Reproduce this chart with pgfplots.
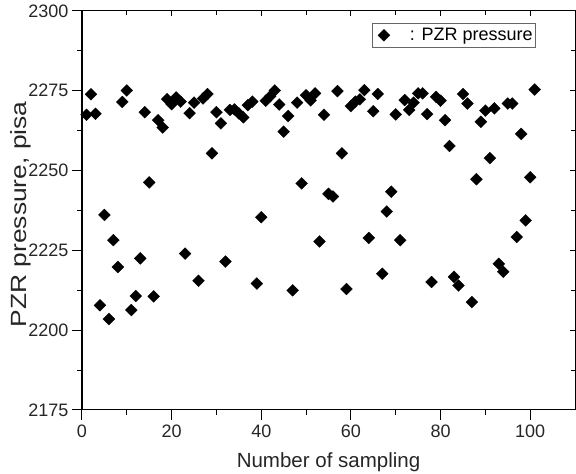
\documentclass[border=0pt]{standalone}
\usepackage{fontspec}
\setmainfont{Liberation Sans}
\usepackage{pgfplots}
\pgfplotsset{compat=1.18}
\begin{document}
\begin{tikzpicture}
\useasboundingbox (0,0) rectangle (576pt,474pt);
\begin{axis}[
  at={(82pt,64pt)}, anchor=south west,
  scale only axis, width=493pt, height=399pt,
  xmin=0, xmax=110, ymin=2175, ymax=2300,
  xtick={0,20,...,100}, minor xtick={10,30,...,90},
  ytick={2175,2200,...,2300}, minor ytick={2187.5,2212.5,...,2287.5},
  xtick pos=left, ytick pos=left, tick align=outside,
  major tick length=10pt, minor tick length=5pt,
  axis line style={line width=1pt}, every tick/.style={black, line width=1pt},
  /pgf/number format/assume math mode=true,
  /pgf/number format/1000 sep={},
  tick label style={font=\fontsize{18}{20}\selectfont, text=black!85},
  xticklabel style={yshift=-1pt},
  xlabel={Number of sampling}, ylabel={\scalebox{1.2}[1]{PZR pressure, pisa}},
  xlabel style={at={(axis description cs:0.5,-0.130)}, anchor=center, font=\fontsize{20.5}{22}\selectfont, text=black!85},
  ylabel style={at={(axis description cs:-0.125,0.49)}, anchor=center, font=\fontsize{22}{24}\selectfont, text=black!85},
  legend style={at={(0.921,0.970)}, anchor=north east, draw=black!60, line width=0.8pt,
    font=\fontsize{18}{20}\selectfont, inner xsep=1pt, inner ysep=3pt, row sep=0pt},
  legend cell align=left,
  legend image code/.code={\path[draw=none, fill=none] (-21pt,0pt) -- (0pt,0pt);
    \draw[#1, only marks] plot coordinates {(-10pt,0pt)};},
]
\addplot[only marks, mark=square*, mark size=4.2pt, mark options={rotate=45, fill=black, draw=black, line width=0.3pt}]
table[row sep=\\]{
x y\\
1 2267.5\\
2 2273.9\\
3 2267.8\\
4 2207.8\\
5 2236.1\\
6 2203.5\\
7 2228.2\\
8 2219.8\\
9 2271.5\\
10 2275.1\\
11 2206.3\\
12 2210.7\\
13 2222.5\\
14 2268.3\\
15 2246.3\\
16 2210.6\\
17 2265.8\\
18 2263.5\\
19 2272.4\\
20 2270.8\\
21 2272.9\\
22 2271.6\\
23 2224.0\\
24 2268.0\\
25 2271.3\\
26 2215.5\\
27 2272.6\\
28 2274.0\\
29 2255.4\\
30 2268.3\\
31 2264.8\\
32 2221.5\\
33 2269.0\\
34 2269.2\\
35 2267.9\\
36 2266.7\\
37 2270.5\\
38 2271.6\\
39 2214.6\\
40 2235.4\\
41 2271.9\\
42 2273.3\\
43 2275.1\\
44 2270.7\\
45 2262.2\\
46 2267.1\\
47 2212.5\\
48 2271.3\\
49 2246.0\\
50 2273.6\\
51 2272.0\\
52 2274.2\\
53 2227.8\\
54 2267.5\\
55 2242.7\\
56 2241.9\\
57 2274.9\\
58 2255.4\\
59 2212.9\\
60 2270.2\\
61 2271.6\\
62 2272.3\\
63 2275.2\\
64 2228.9\\
65 2268.6\\
66 2274.0\\
67 2217.7\\
68 2237.2\\
69 2243.4\\
70 2267.6\\
71 2228.2\\
72 2272.1\\
73 2269.0\\
74 2271.3\\
75 2274.2\\
76 2274.2\\
77 2267.7\\
78 2215.1\\
79 2273.1\\
80 2271.9\\
81 2265.8\\
82 2257.7\\
83 2216.7\\
84 2214.0\\
85 2274.0\\
86 2271.0\\
87 2208.8\\
88 2247.3\\
89 2265.3\\
90 2268.8\\
91 2253.9\\
92 2269.5\\
93 2220.8\\
94 2218.3\\
95 2271.0\\
96 2271.0\\
97 2229.2\\
98 2261.5\\
99 2234.4\\
100 2247.9\\
101 2275.4\\
};
\addlegendentry{\hspace{14pt}: PZR pressure}
\end{axis}
\begin{axis}[
  at={(82pt,64pt)}, anchor=south west,
  scale only axis, width=493pt, height=399pt,
  xmin=0, xmax=110, ymin=2175, ymax=2300,
  xtick={0,20,...,100}, minor xtick={10,30,...,90},
  ytick={2175,2200,...,2300}, minor ytick={2187.5,2212.5,...,2287.5},
  xtick pos=right, ytick pos=right, tick align=inside,
  major tick length=5pt, minor tick length=4pt,
  axis line style={line width=1pt}, every tick/.style={black, line width=1pt},
  xticklabels={}, yticklabels={},
]
\end{axis}
\end{tikzpicture}
\end{document}
